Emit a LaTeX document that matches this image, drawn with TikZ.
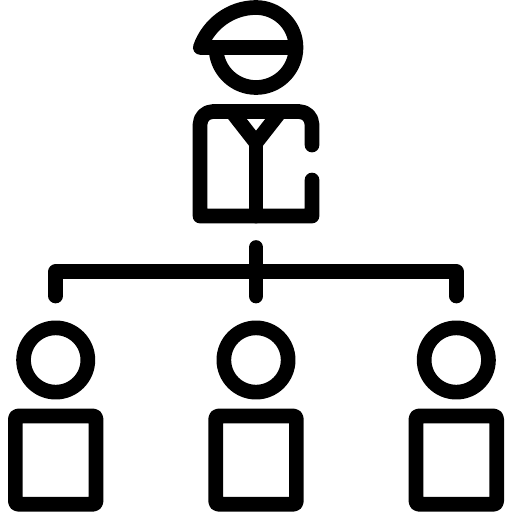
\documentclass[tikz,border=0pt]{standalone}
\tikzset{
  icon/.style={draw=black,line width=14.7pt,line join=round,line cap=round},
  headcirc/.style={icon,circle,minimum size=64.3pt,inner sep=0pt,outer sep=0pt},
  bodybox/.style={icon,rectangle,minimum width=80.7pt,minimum height=88.4pt,inner sep=0pt,outer sep=0pt,rounded corners=3pt},
}
\begin{document}
\begin{tikzpicture}[x=1pt,y=-1pt]
\useasboundingbox[fill=white] (0,0) rectangle (512,512);
% boss head and cap
\draw[icon] (216,47.5) arc[start angle=180,end angle=0,radius=40] arc[start angle=0,end angle=-90,radius=40]
  .. controls (230,7.5) and (208,25) .. (200.3,47.5) -- (296,47.5);
% boss jacket
\draw[icon] (312,145) -- (312,124.5) .. controls (312,117.3) and (306.2,111.5) .. (299,111.5) -- (213,111.5)
  .. controls (205.8,111.5) and (200,117.3) .. (200,124.5) -- (200,216) -- (312,216) -- (312,180);
\coordinate (fork) at (256,142.7);
\coordinate (hem) at (256,216);
\coordinate (lapelL) at (231.6,111.5);
\coordinate (lapelR) at (280.4,111.5);
\draw[icon] (lapelL) -- (fork) -- (lapelR);
\draw[icon] (fork) -- (hem);
% connectors
\coordinate (top) at (256,247.5);
\coordinate (mid) at (256,296);
\coordinate (left) at (55.7,296);
\coordinate (right) at (456.3,296);
\coordinate (barL) at (55.7,271.7);
\coordinate (barR) at (456.3,271.7);
\draw[icon] (left) -- (barL) -- (barR) -- (right);
\draw[icon] (top) -- (mid);
% staff
\node[headcirc] (h1) at (55.7,360) {};
\node[headcirc] (h2) at (256,360) {};
\node[headcirc] (h3) at (456.3,360) {};
\node[bodybox] (b1) at (55.7,460.1) {};
\node[bodybox] (b2) at (256,460.1) {};
\node[bodybox] (b3) at (456.3,460.1) {};
\end{tikzpicture}
\end{document}
